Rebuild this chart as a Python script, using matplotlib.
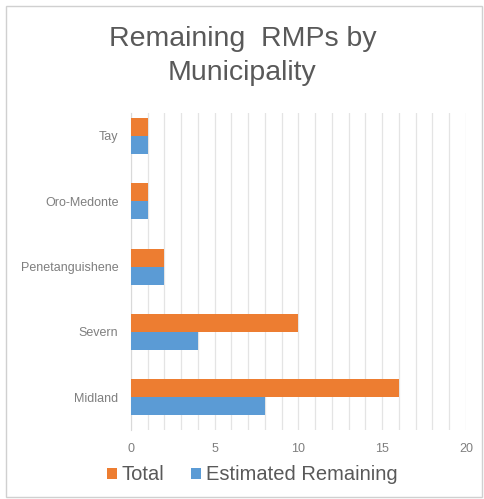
import matplotlib.pyplot as plt
import numpy as np
from matplotlib.patches import Rectangle

municipalities = ['Midland', 'Severn', 'Penetanguishene', 'Oro-Medonte', 'Tay']
total = [16, 10, 2, 1, 1]
remaining = [8, 4, 2, 1, 1]
x_ticks = [0, 5, 10, 15, 20]

plt.rcParams['font.family'] = ['Liberation Sans', 'DejaVu Sans']

fig = plt.figure(figsize=(4.85, 4.99), dpi=100)
ax = fig.add_axes([131 / 485, 1 - 430 / 499, (466 - 131) / 485, (430 - 113) / 499])

y = np.arange(len(municipalities))
h = 0.275
ax.barh(y + h / 2, total, height=h, color='#ED7D31', label='Total', zorder=3)
ax.barh(y - h / 2, remaining, height=h, color='#5B9BD5', label='Estimated Remaining', zorder=3)

ax.set_xlim(0, 20)
ax.set_ylim(-0.5, 4.35)
ax.set_xticks(x_ticks)
ax.set_xticks(np.arange(0, 21, 1), minor=True)
ax.grid(axis='x', which='both', color='#E4E4E4', linewidth=0.9, zorder=0)
ax.set_yticks(y)
ax.set_yticklabels(municipalities)
ax.tick_params(axis='both', which='both', length=0, labelsize=9, colors='#7F7F7F')
ax.tick_params(axis='x', pad=9)
ax.tick_params(axis='y', pad=9)
for s in ['top', 'right', 'bottom']:
    ax.spines[s].set_visible(False)
ax.spines['left'].set_color('#D9D9D9')

fig.text(0.5, 1 - 39 / 499, 'Remaining  RMPs by', ha='center', va='center', fontsize=20.5, color='#595959')
fig.text(0.5, 1 - 73 / 499, 'Municipality', ha='center', va='center', fontsize=20.5, color='#595959')

fig.legend(loc='center', bbox_to_anchor=(0.52, 1 - 475 / 499), ncol=2, frameon=False,
           fontsize=14.5, labelcolor='#595959', handlelength=0.5, handleheight=0.5,
           handletextpad=0.25, columnspacing=1.3)

fig.patches.append(Rectangle((6 / 485, 2 / 499), 476 / 485, 491 / 499, transform=fig.transFigure,
                             fill=False, edgecolor='#D0D0D0', linewidth=1))

fig.savefig('out.png', dpi=100)
